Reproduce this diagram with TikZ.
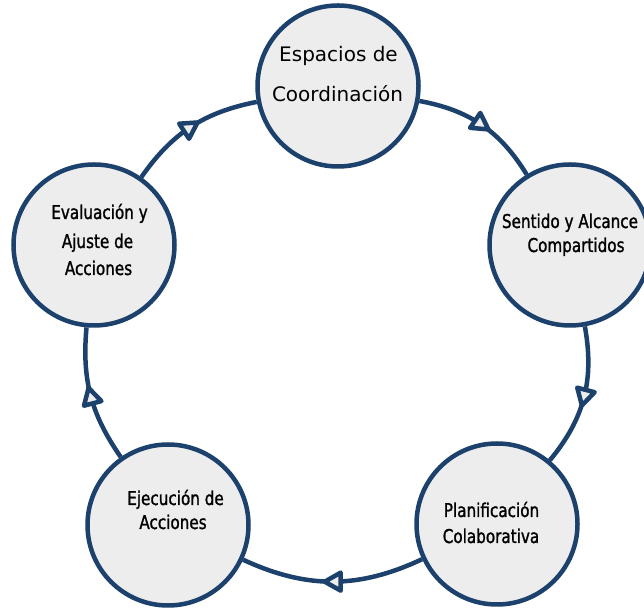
\documentclass[tikz,border=0pt]{standalone}
\usepackage{fontspec}
\newfontfamily\condf[FakeStretch=0.8,FakeBold=1.2]{DejaVu Sans}
\newfontfamily\normf{DejaVu Sans}
\usetikzlibrary{decorations.markings}
\definecolor{navy}{HTML}{1B416C}
\definecolor{cfill}{HTML}{EDEDED}
\tikzset{
  stage/.style={circle, draw=navy, fill=cfill, line width=4.5pt, minimum size=161pt, inner sep=0pt},
  lblc/.style={anchor=base, inner sep=0pt, font=\condf\fontsize{19pt}{22pt}\selectfont},
  lbln/.style={anchor=base, inner sep=0pt, font=\normf\fontsize{20pt}{24pt}\selectfont},
  tiphead/.style={draw=navy, fill=cfill, line width=4.5pt, line join=round},
  flow/.style={draw=navy, line width=4.5pt,
    postaction={decorate, decoration={markings,
      mark=at position 0.5 with {\path[tiphead] (8pt,0pt) -- (-8pt,9pt) -- (-8pt,-9pt) -- cycle;}}}}
}
\begin{document}
\begin{tikzpicture}[x=1pt, y=1pt]
\useasboundingbox (0,0) rectangle (644,609);
\fill[white] (0,0) rectangle (644,609);
% stages
\node[stage] (top) at (338,523) {};
\node[stage] (right) at (570,364) {};
\node[stage] (br) at (497,85) {};
\node[stage] (bl) at (168,84) {};
\node[stage] (left) at (94,364) {};
% connectors
\draw[flow] (top) to[bend left=24] (right);
\draw[flow] (right) to[bend left=25] (br);
\draw[flow] (br) to[bend left=25] (bl);
\draw[flow] (bl) to[bend left=20] (left);
\draw[flow] (left) to[bend left=22] (top);
% labels
\node[lbln] (t1) at (338.5,547) {Espacios de};
\node[lbln] (t2) at (337.5,507) {Coordinación};
\node[lblc] (r1) at (570,381) {Sentido y Alcance};
\node[lblc] (r2) at (576,357) {Compartidos};
\node[lblc] (b1) at (491.5,92) {Planificación};
\node[lblc] (b2) at (491,66) {Colaborativa};
\node[lblc] (l1) at (175.5,104) {Ejecución de};
\node[lblc] (l2) at (173,80) {Acciones};
\node[lblc] (e1) at (99.5,390) {Evaluación y};
\node[lblc] (e2) at (97.5,361) {Ajuste de};
\node[lblc] (e3) at (98.5,334) {Acciones};
\end{tikzpicture}
\end{document}
